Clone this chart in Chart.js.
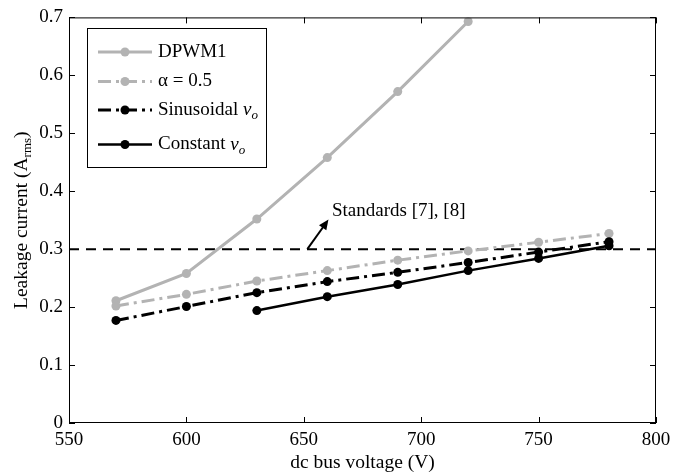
<!DOCTYPE html>
<html>
<head>
<meta charset="utf-8">
<script src="https://cdn.jsdelivr.net/npm/chart.js@4.4.1/dist/chart.umd.min.js"></script>
<style>
  html, body { margin: 0; padding: 0; background: #fff; }
  #wrap { width: 686px; height: 475px; }
</style>
</head>
<body>
<div id="wrap"><canvas id="chart"></canvas></div>
<script>
/* --------------- Data ----------------------------------------- */
const voltages = [570, 600, 630, 660, 690, 720, 750, 780];
const dpwm1 = [0.211, 0.258, 0.352, 0.458, 0.572, 0.693];
const alphaHalf = [0.202, 0.222, 0.245, 0.263, 0.281, 0.297, 0.312, 0.327];
const sinusoidal = [0.177, 0.201, 0.225, 0.244, 0.260, 0.277, 0.295, 0.313];
const constant = [null, null, 0.194, 0.218, 0.239, 0.263, 0.284, 0.306];
const limitX = [550, 800];
const limitY = [0.3, 0.3];
const xTicks = [550, 600, 650, 700, 750, 800];
const yTicks = [0, 0.1, 0.2, 0.3, 0.4, 0.5, 0.6, 0.7];

const GRAY = "#b3b3b3";
const FONT = "Liberation Serif";
const DASHDOT = [13, 5, 3, 5];

const pts = (xs, ys) => xs.map((x, i) => ({ x: x, y: ys[i] })).filter(p => p.y !== null && p.y !== undefined);

/* --------------- Legend entries --------------------- */
const legendItems = [
  { label: "DPWM1", color: GRAY, dash: [], width: 3 },
  { label: "\u03b1 = 0.5", color: GRAY, dash: DASHDOT, width: 3 },
  { label: "Sinusoidal ", sub: true, color: "#000", dash: DASHDOT, width: 3 },
  { label: "Constant ", sub: true, color: "#000", dash: [], width: 2.5 },
];

/* --------------- Frame, ticks, titles, legend, note --------------------- */
const decorations = {
  id: "decorations",
  afterDraw(chart) {
    const ctx = chart.ctx;
    const a = chart.chartArea;
    const xs = chart.scales.x, ys = chart.scales.y;
    ctx.save();
    // frame
    ctx.strokeStyle = "#000";
    ctx.lineWidth = 1;
    ctx.setLineDash([]);
    ctx.strokeRect(a.left + 0.5, a.top + 0.5, a.right - a.left - 1, a.bottom - a.top - 1);
    // inner ticks on four sides
    const tl = 6;
    ctx.beginPath();
    xTicks.forEach(v => {
      const px = Math.round(xs.getPixelForValue(v)) + 0.5;
      ctx.moveTo(px, a.bottom); ctx.lineTo(px, a.bottom - tl);
      ctx.moveTo(px, a.top); ctx.lineTo(px, a.top + tl);
    });
    yTicks.forEach(v => {
      const py = Math.round(ys.getPixelForValue(v)) + 0.5;
      ctx.moveTo(a.left, py); ctx.lineTo(a.left + tl, py);
      ctx.moveTo(a.right, py); ctx.lineTo(a.right - tl, py);
    });
    ctx.stroke();

    // x title
    ctx.fillStyle = "#000";
    ctx.font = "19.5px '" + FONT + "'";
    ctx.textAlign = "center";
    ctx.textBaseline = "middle";
    ctx.fillText("dc bus voltage (V)", (a.left + a.right) / 2, 463);

    // y title with subscript
    ctx.save();
    ctx.translate(21, (a.top + a.bottom) / 2);
    ctx.rotate(-Math.PI / 2);
    const main = "Leakage current (A";
    const sub = "rms";
    const tail = ")";
    ctx.font = "19.5px '" + FONT + "'";
    const w1 = ctx.measureText(main).width;
    const w3 = ctx.measureText(tail).width;
    ctx.font = "13px '" + FONT + "'";
    const w2 = ctx.measureText(sub).width;
    let sx = -(w1 + w2 + w3) / 2;
    ctx.textAlign = "left";
    ctx.textBaseline = "alphabetic";
    ctx.font = "19.5px '" + FONT + "'";
    ctx.fillText(main, sx, 6);
    ctx.font = "13px '" + FONT + "'";
    ctx.fillText(sub, sx + w1, 10);
    ctx.font = "19.5px '" + FONT + "'";
    ctx.fillText(tail, sx + w1 + w2, 6);
    ctx.restore();

    // standards note with arrow
    const tx = xs.getPixelForValue(662), ty = ys.getPixelForValue(0.366);
    ctx.font = "19px '" + FONT + "'";
    ctx.textAlign = "left";
    ctx.textBaseline = "middle";
    ctx.fillText("Standards [7], [8]", tx, ty);
    const ax0 = xs.getPixelForValue(651.5), ay0 = ys.getPixelForValue(0.3);
    const ax1 = xs.getPixelForValue(660.5), ay1 = ys.getPixelForValue(0.351);
    const ang = Math.atan2(ay1 - ay0, ax1 - ax0);
    ctx.lineWidth = 2;
    ctx.beginPath();
    ctx.moveTo(ax0, ay0);
    ctx.lineTo(ax1 - 6 * Math.cos(ang), ay1 - 6 * Math.sin(ang));
    ctx.stroke();
    ctx.beginPath();
    ctx.moveTo(ax1, ay1);
    ctx.lineTo(ax1 - 10 * Math.cos(ang) + 4.5 * Math.sin(ang), ay1 - 10 * Math.sin(ang) - 4.5 * Math.cos(ang));
    ctx.lineTo(ax1 - 10 * Math.cos(ang) - 4.5 * Math.sin(ang), ay1 - 10 * Math.sin(ang) + 4.5 * Math.cos(ang));
    ctx.closePath();
    ctx.fill();

    // legend box
    const bx = 87, by = 28, bw = 179, bh = 139;
    ctx.fillStyle = "#fff";
    ctx.fillRect(bx, by, bw, bh);
    ctx.strokeStyle = "#000";
    ctx.lineWidth = 1;
    ctx.strokeRect(bx + 0.5, by + 0.5, bw, bh);
    const rowsY = [52, 81.5, 110, 144.5];
    legendItems.forEach((it, i) => {
      const y = rowsY[i];
      ctx.strokeStyle = it.color;
      ctx.fillStyle = it.color;
      ctx.lineWidth = it.width;
      ctx.setLineDash(it.dash);
      ctx.beginPath();
      ctx.moveTo(98, y); ctx.lineTo(152, y);
      ctx.stroke();
      ctx.setLineDash([]);
      ctx.beginPath();
      ctx.arc(125, y, 4.5, 0, Math.PI * 2);
      ctx.fill();
      ctx.fillStyle = "#000";
      ctx.textAlign = "left";
      ctx.textBaseline = "middle";
      ctx.font = "19px '" + FONT + "'";
      ctx.fillText(it.label, 158, y);
      if (it.sub) {
        const lw = ctx.measureText(it.label).width;
        ctx.font = "italic 19px '" + FONT + "'";
        ctx.fillText("v", 158 + lw, y);
        const vw = ctx.measureText("v").width;
        ctx.font = "italic 13px '" + FONT + "'";
        ctx.fillText("o", 158 + lw + vw, y + 6);
      }
    });
    ctx.restore();
  },
};

/* --------------- Chart --------------------- */
new Chart(document.getElementById("chart"), {
  type: "line",
  plugins: [decorations],
  data: {
    datasets: [
      {
        label: "Constant vo",
        data: pts(voltages, constant),
        borderColor: "#000", backgroundColor: "#000",
        borderWidth: 2.5, pointRadius: 4.5, pointBorderWidth: 0,
        order: 0,
      },
      {
        label: "Sinusoidal vo",
        data: pts(voltages, sinusoidal),
        borderColor: "#000", backgroundColor: "#000",
        borderWidth: 3, borderDash: DASHDOT, pointRadius: 4.5, pointBorderWidth: 0,
        order: 1,
      },
      {
        label: "alpha = 0.5",
        data: pts(voltages, alphaHalf),
        borderColor: GRAY, backgroundColor: GRAY,
        borderWidth: 3, borderDash: DASHDOT, pointRadius: 4.5, pointBorderWidth: 0,
        order: 2,
      },
      {
        label: "DPWM1",
        data: pts(voltages, dpwm1),
        borderColor: GRAY, backgroundColor: GRAY,
        borderWidth: 3, pointRadius: 4.5, pointBorderWidth: 0,
        order: 3,
      },
      {
        label: "Standards",
        data: pts(limitX, limitY),
        borderColor: "#000",
        borderWidth: 2, borderDash: [10, 7], pointRadius: 0,
        order: 4,
      },
    ],
  },
  options: {
    responsive: true,
    maintainAspectRatio: false,
    animation: false,
    layout: { padding: { top: 13, right: 30, left: 0, bottom: 0 } },
    plugins: { legend: { display: false }, tooltip: { enabled: false } },
    elements: { line: { tension: 0, borderCapStyle: "butt" } },
    scales: {
      x: {
        type: "linear", min: 550, max: 800,
        afterFit: (s) => { s.height = 52; },
        afterBuildTicks: (s) => { s.ticks = xTicks.map(v => ({ value: v })); },
        grid: { display: false, drawTicks: false },
        border: { display: false },
        ticks: { color: "#000", padding: 6, font: { family: FONT, size: 19 }, maxRotation: 0 },
      },
      y: {
        min: 0, max: 0.7,
        afterFit: (s) => { s.width = 69; },
        afterBuildTicks: (s) => { s.ticks = yTicks.map(v => ({ value: v })); },
        grid: { display: false, drawTicks: false },
        border: { display: false },
        ticks: { color: "#000", padding: 6, font: { family: FONT, size: 19 },
                 callback: (v) => String(Math.round(v * 10) / 10) },
      },
    },
  },
});
</script>
</body>
</html>
